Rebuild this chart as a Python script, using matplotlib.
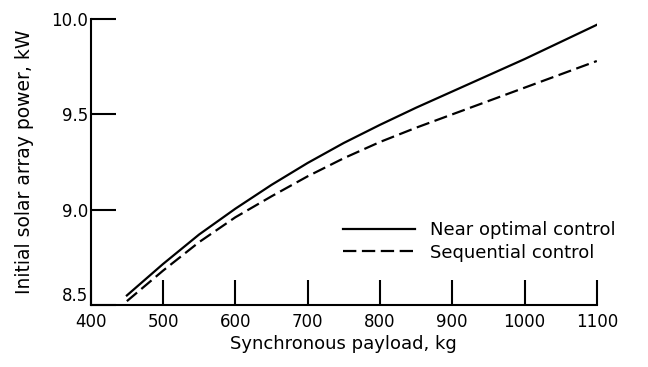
import matplotlib
matplotlib.use("Agg")
import matplotlib.pyplot as plt

# payload (kg) and initial solar array power (kW)
payload = [450, 500, 550, 600, 650, 700, 750, 800, 850, 900, 950, 1000, 1050, 1100]
near_optimal = [8.55, 8.715, 8.87, 9.005, 9.13, 9.245, 9.35, 9.445, 9.535, 9.62, 9.705, 9.79, 9.88, 9.97]
sequential = [8.52, 8.68, 8.83, 8.96, 9.07, 9.175, 9.27, 9.355, 9.43, 9.50, 9.57, 9.64, 9.71, 9.78]

xticks = [400, 500, 600, 700, 800, 900, 1000, 1100]
yticks = [8.5, 9.0, 9.5, 10.0]
ytick_labels = ["8.5", "9.0", "9.5", "10.0"]

fig = plt.figure(figsize=(6.48, 3.67), dpi=100)
ax = fig.add_axes([0.140, 0.169, 0.781, 0.779])

ax.plot(payload, near_optimal, color="black", lw=1.6, label="Near optimal control")
ax.plot(payload, sequential, color="black", lw=1.6, dashes=(6, 2.5), label="Sequential control")

ax.set_xlim(400, 1100)
ax.set_ylim(8.5, 10.0)
ax.set_xticks(xticks)
ax.set_yticks(yticks)
ax.set_yticklabels(ytick_labels)

for s in ["top", "right"]:
    ax.spines[s].set_visible(False)
for s in ["left", "bottom"]:
    ax.spines[s].set_linewidth(1.5)

ax.tick_params(axis="both", direction="in", length=18, width=1.5, labelsize=12)
ax.tick_params(axis="x", pad=6)
ax.tick_params(axis="y", pad=2)
# lift the lowest y label a little so it clears the 400 label
ax.get_yticklabels()[0].set_va("bottom")

ax.set_xlabel("Synchronous payload, kg", fontsize=13, labelpad=3)
ax.set_ylabel("Initial solar array power, kW", fontsize=13.5, labelpad=12)

ax.legend(loc="upper left", bbox_to_anchor=(0.48, 0.325), frameon=False, borderpad=0,
          handlelength=4.0, handletextpad=0.85, fontsize=13, labelspacing=0.25)

fig.savefig("out.png", dpi=100)
